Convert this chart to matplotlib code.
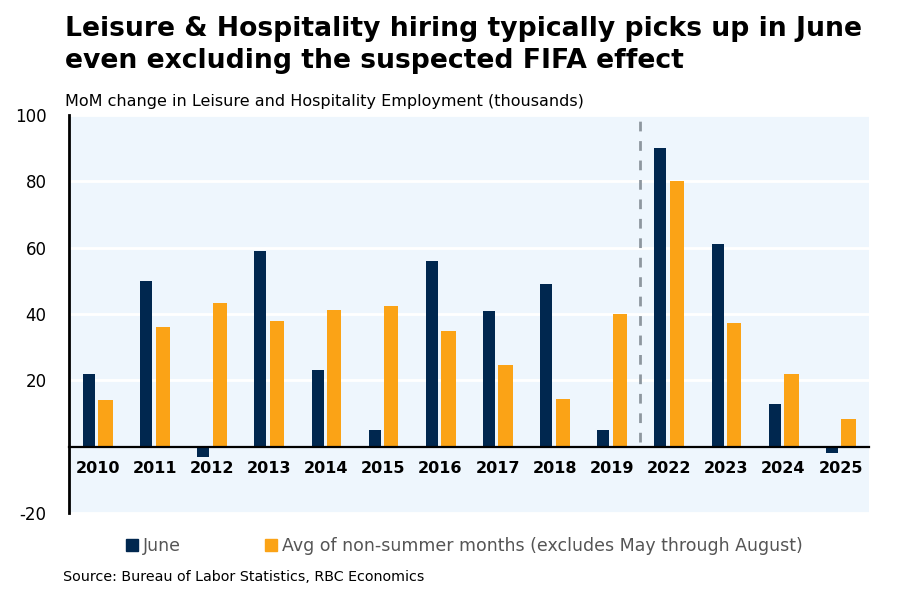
import matplotlib
matplotlib.use("Agg")
import matplotlib.pyplot as plt
import matplotlib.patches as mpatches
import numpy as np

# ─────────────────────────────────────────────
# Data (thousands)
# ─────────────────────────────────────────────
years = ["2010", "2011", "2012", "2013", "2014", "2015", "2016",
         "2017", "2018", "2019", "2022", "2023", "2024", "2025"]
june = [22, 50, -3, 59, 23, 5, 56, 41, 49, 5, 90, 61, 13, -2]
avg_non_summer = [14, 36, 43.4, 38, 41.3, 42.5, 35, 24.7, 14.5, 40, 80, 37.4, 22, 8.4]
yticks = [-20, 20, 40, 60, 80, 100]

NAVY = "#00274F"
ORANGE = "#FBA316"
BG = "#EEF6FD"
FIFA_SPLIT = 9.5   # between 2019 and 2022

plt.rcParams["font.family"] = ["DejaVu Sans"]

fig = plt.figure(figsize=(8.98, 5.89), dpi=100)
ax = fig.add_axes([0.0768, 0.129, 0.891, 0.6757])
ax.set_facecolor(BG)

# move the x axis to zero first (this resets the ticks)
ax.spines["bottom"].set_position(("data", 0))
ax.spines["bottom"].set_linewidth(1.6)
ax.spines["bottom"].set_zorder(4)
ax.spines["left"].set_linewidth(2)
ax.spines["top"].set_visible(False)
ax.spines["right"].set_visible(False)

x = np.arange(len(years))
ax.bar(x - 0.15, june, width=0.21, color=NAVY, zorder=3)
ax.bar(x + 0.14, avg_non_summer, width=0.25, color=ORANGE, zorder=3)

# dashed separator: pre-COVID vs post-COVID years
ax.vlines(FIFA_SPLIT, 1.5, 100, colors="#8E979F", linestyles=(0, (3.5, 3.5)),
          linewidth=2, zorder=2)

ax.set_xlim(-0.5, len(years) - 0.5)
ax.set_ylim(-20, 100)
ax.set_yticks(yticks)
ax.set_yticklabels([str(v) for v in yticks], fontsize=12)
ax.yaxis.grid(True, color="white", linewidth=2, zorder=1)
ax.set_axisbelow(True)

ax.set_xticks(x)
ax.set_xticklabels(years, fontsize=11.5, fontweight="bold")
ax.tick_params(axis="x", length=0, pad=10)
ax.tick_params(axis="y", length=0, pad=16)

# titles
fig.text(0.072, 0.972, "Leisure & Hospitality hiring typically picks up in June\n"
         "even excluding the suspected FIFA effect",
         fontsize=19.2, fontweight="bold", va="top", ha="left", linespacing=1.27)
fig.text(0.072, 0.828, "MoM change in Leisure and Hospitality Employment (thousands)",
         fontsize=11.5, va="center", ha="left")

# legend
handles = [mpatches.Patch(color=NAVY, label="June"),
           mpatches.Patch(color=ORANGE,
                          label="Avg of non-summer months (excludes May through August)")]
leg = fig.legend(handles=handles, loc="center", bbox_to_anchor=(0.517, 0.073),
                 ncol=2, frameon=False, fontsize=12.5, handlelength=0.7,
                 handleheight=0.7, handletextpad=0.3, columnspacing=4.8)
for t in leg.get_texts():
    t.set_color("#555555")

fig.text(0.07, 0.008, "Source: Bureau of Labor Statistics, RBC Economics",
         fontsize=10.3, ha="left", va="bottom")

plt.savefig("out.png", dpi=100)
